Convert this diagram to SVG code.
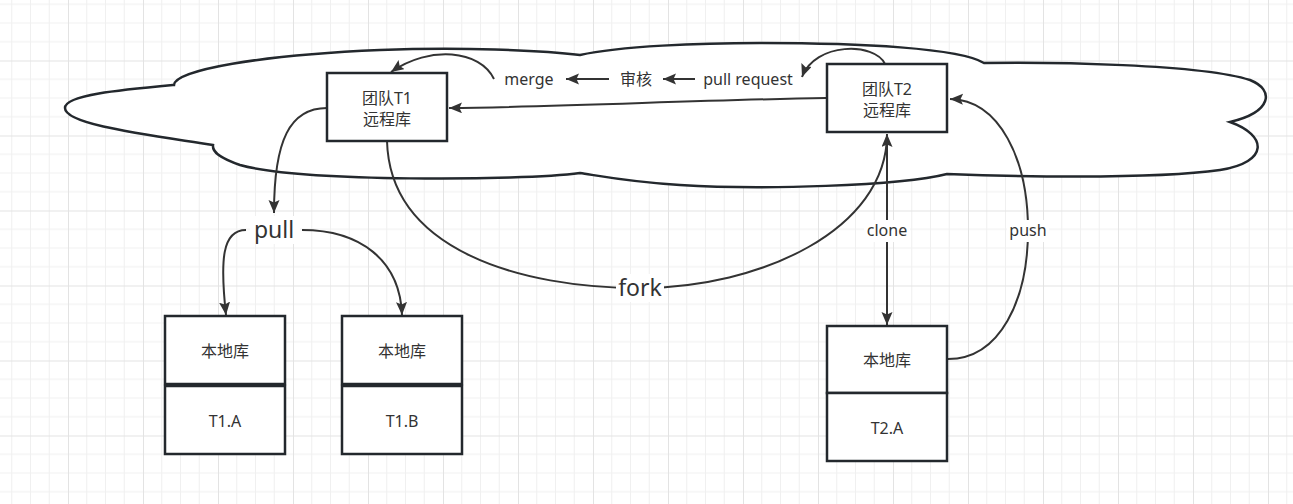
<svg xmlns="http://www.w3.org/2000/svg" width="1293" height="504" viewBox="0 0 1293 504">
<style>
.box{fill:#fff;stroke:#23282d;stroke-width:2.5}
.conn{fill:none;stroke:#333;stroke-width:2}
.t{font-family:"Noto Sans","Noto Sans CJK SC",sans-serif;font-size:16px;fill:#333;text-anchor:middle;dominant-baseline:central}
.big{font-size:23px}
.bg{fill:#fff}
</style>
<defs>
<pattern id="grid" patternUnits="userSpaceOnUse" x="-7" y="-14.5" width="75" height="75">
<rect width="75" height="75" fill="#fff"/>
<path d="M18.75,0V75M37.5,0V75M56.25,0V75M0,18.75H75M0,37.5H75M0,56.25H75" stroke="#f0f0f0" stroke-width="1"/>
<path d="M0.5,0V75M0,0.5H75" stroke="#e3e3e3" stroke-width="1"/>
</pattern>
<marker id="arr" markerUnits="userSpaceOnUse" markerWidth="16" markerHeight="14" refX="13" refY="5.5" orient="auto">
<path d="M0,0 L13,5.5 L0,11 L2.5,5.5 z" fill="#333"/>
</marker>
</defs>
<rect width="1293" height="504" fill="url(#grid)"/>
<g id="cloud">
<path d="M174,85 C175,70 260,55 380,50 C460,47 540,50 580,55 C620,46 700,43 760,43 C860,43 960,48 984,63 C1050,62 1200,64 1250,80 C1275,90 1272,112 1230,122 C1267,135 1270,162 1220,170 C1150,180 1000,176 947,174 C900,186 760,190 680,185 C630,182 600,176 580,173 C520,181 300,182 240,165 C220,158 212,152 213,145 C150,135 65,125 65,108 C65,95 120,90 174,85 Z" fill="#fff" stroke="#23282d" stroke-width="2.5"/>
</g>
<g id="connectors">
<path class="conn" d="M826,98 C700,100 560,107 449,108" marker-end="url(#arr)"/>
<path class="conn" d="M494,79 C480,50 430,45 391,72" marker-end="url(#arr)"/>
<path class="conn" d="M609,79 L566,79" marker-end="url(#arr)"/>
<path class="conn" d="M695,79 L663,79" marker-end="url(#arr)"/>
<path class="conn" d="M885,64 C875,42 815,42 802,77" marker-end="url(#arr)"/>
<path class="conn" d="M327,108 C290,108 274,140 274,213" marker-end="url(#arr)"/>
<path class="conn" d="M246,230 C222,230 220,260 226,315" marker-end="url(#arr)"/>
<path class="conn" d="M302,230 C360,230 400,260 402,315" marker-end="url(#arr)"/>
<path class="conn" d="M387,141 C390,250 520,288 640,288 C760,288 887,230 887,134" marker-end="url(#arr)"/>
<path class="conn" d="M887,135 L887,325" marker-end="url(#arr)"/>
<path class="conn" d="M948,359 C1000,359 1028,300 1028,230 C1028,160 1000,100 950,99" marker-end="url(#arr)"/>
<rect class="bg" x="500" y="68" width="58" height="22"/>
<text class="t" x="529" y="79">merge</text>
<rect class="bg" x="614" y="68" width="44" height="22"/>
<text class="t" x="636" y="79">审核</text>
<rect class="bg" x="700" y="68" width="97" height="22"/>
<text class="t" x="748" y="79">pull request</text>
<rect class="bg" x="250" y="216" width="50" height="28"/>
<text class="t big" x="274" y="229">pull</text>
<rect class="bg" x="616" y="274" width="48" height="28"/>
<text class="t big" x="640" y="287">fork</text>
<rect class="bg" x="864" y="220" width="46" height="22"/>
<text class="t" x="887" y="230">clone</text>
<rect class="bg" x="1007" y="220" width="42" height="22"/>
<text class="t" x="1028" y="230">push</text>
</g>
<g id="t1-remote">
<rect class="box" x="327" y="73" width="120" height="68"/>
<text class="t" x="387" y="98">团队T1</text>
<text class="t" x="387" y="119">远程库</text>
</g>
<g id="t2-remote">
<rect class="box" x="827" y="64" width="120" height="68"/>
<text class="t" x="887" y="89">团队T2</text>
<text class="t" x="887" y="110">远程库</text>
</g>
<g id="t1a-local">
<rect class="box" x="165" y="316" width="120" height="68"/>
<text class="t" x="225" y="351">本地库</text>
<rect class="box" x="165" y="386" width="120" height="68"/>
<text class="t" x="225" y="421">T1.A</text>
</g>
<g id="t1b-local">
<rect class="box" x="342" y="316" width="120" height="68"/>
<text class="t" x="402" y="351">本地库</text>
<rect class="box" x="342" y="386" width="120" height="68"/>
<text class="t" x="402" y="421">T1.B</text>
</g>
<g id="t2a-local">
<rect class="box" x="827" y="326" width="120" height="67"/>
<text class="t" x="887" y="360">本地库</text>
<rect class="box" x="827" y="393" width="120" height="68"/>
<text class="t" x="887" y="428">T2.A</text>
</g>
</svg>
